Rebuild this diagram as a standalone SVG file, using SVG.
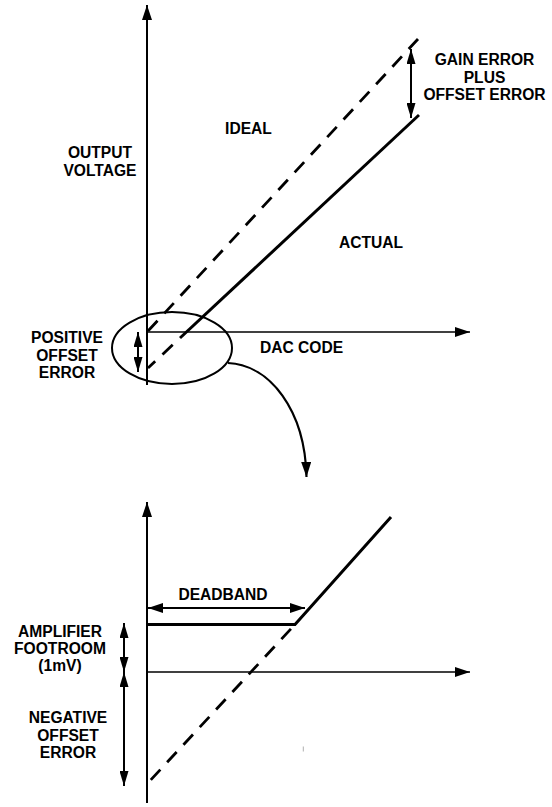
<svg xmlns="http://www.w3.org/2000/svg" width="552" height="807" viewBox="0 0 552 807">
<defs>
<marker id="arr" viewBox="0 0 15 10" refX="15" refY="5" markerWidth="15" markerHeight="10" markerUnits="userSpaceOnUse" orient="auto-start-reverse">
<path d="M0,0 L15,5 L0,10 z" fill="#000"/>
</marker>
<marker id="arrs" viewBox="0 0 15 9" refX="15" refY="4.5" markerWidth="15" markerHeight="9" markerUnits="userSpaceOnUse" orient="auto-start-reverse">
<path d="M0,0 L15,4.5 L0,9 z" fill="#000"/>
</marker>
</defs>
<style>
text{font-family:"Liberation Sans",Arial,sans-serif;font-weight:bold;font-size:15.6px;fill:#000;text-anchor:middle}
.ax{stroke:#000;stroke-width:2;fill:none}
.axh{stroke:#000;stroke-width:1.6;fill:none}
.sol{stroke:#000;stroke-width:3;fill:none}
.dash{stroke:#000;stroke-width:2.8;fill:none;stroke-dasharray:14 10}
.dim{stroke:#000;stroke-width:2;fill:none}
</style>
<rect width="552" height="807" fill="#fff"/>

<g id="top-axes">
<line class="ax" x1="147" y1="385" x2="147" y2="5" marker-end="url(#arr)"/>
<line class="axh" x1="147" y1="332" x2="470" y2="332" marker-end="url(#arr)"/>
</g>

<g id="top-lines">
<line class="dash" x1="148" y1="331" x2="418" y2="39"/>
<line class="dash" x1="180" y1="338" x2="148" y2="368" style="stroke-dashoffset:-10"/>
<line class="sol" x1="180" y1="338" x2="419" y2="115"/>
</g>

<g id="gain-error">
<line class="dim" x1="411" y1="118" x2="411" y2="49" marker-start="url(#arrs)" marker-end="url(#arrs)"/>
<text x="484.5" y="65">GAIN ERROR</text>
<text x="484.5" y="83">PLUS</text>
<text x="484.5" y="100">OFFSET ERROR</text>
</g>

<g id="labels-top">
<text x="248.5" y="134">IDEAL</text>
<text x="100" y="158">OUTPUT</text>
<text x="100" y="176">VOLTAGE</text>
<text x="371" y="248">ACTUAL</text>
<text x="301.5" y="353">DAC CODE</text>
</g>

<g id="positive-offset">
<ellipse cx="172" cy="348" rx="60" ry="36" fill="none" stroke="#000" stroke-width="2"/>
<line class="dim" x1="138" y1="332" x2="138" y2="372" marker-start="url(#arrs)" marker-end="url(#arrs)"/>
<text x="67" y="343">POSITIVE</text>
<text x="67" y="361">OFFSET</text>
<text x="67" y="378">ERROR</text>
</g>

<g id="connectors">
<path d="M228,363 C270,365 305,410 306.5,477" fill="none" stroke="#000" stroke-width="2.2" marker-end="url(#arr)"/>
</g>

<g id="bottom-axes">
<line class="ax" x1="147" y1="803" x2="147" y2="502" marker-end="url(#arr)"/>
<line class="axh" x1="147" y1="672" x2="470" y2="672" marker-end="url(#arr)"/>
</g>

<g id="bottom-lines">
<polyline class="sol" points="148,624.5 295,624.5 391,517"/>
<line class="dash" x1="295" y1="624.5" x2="147" y2="784" style="stroke-dashoffset:-6"/>
</g>

<g id="deadband">
<line class="dim" x1="148" y1="608" x2="305" y2="608" marker-start="url(#arr)" marker-end="url(#arr)"/>
<text x="223" y="600">DEADBAND</text>
</g>

<g id="footroom">
<line class="dim" x1="124" y1="623" x2="124" y2="672" marker-start="url(#arrs)" marker-end="url(#arrs)"/>
<text x="60" y="637">AMPLIFIER</text>
<text x="60" y="654">FOOTROOM</text>
<text x="60" y="671">(1mV)</text>
</g>

<g id="negative-offset">
<line class="dim" x1="124" y1="672" x2="124" y2="786" marker-start="url(#arrs)" marker-end="url(#arrs)"/>
<text x="68" y="723">NEGATIVE</text>
<text x="68" y="741">OFFSET</text>
<text x="68" y="758">ERROR</text>
</g>

<line x1="303.3" y1="746.5" x2="303.3" y2="751.5" stroke="#b0b0b0" stroke-width="1"/>
</svg>
